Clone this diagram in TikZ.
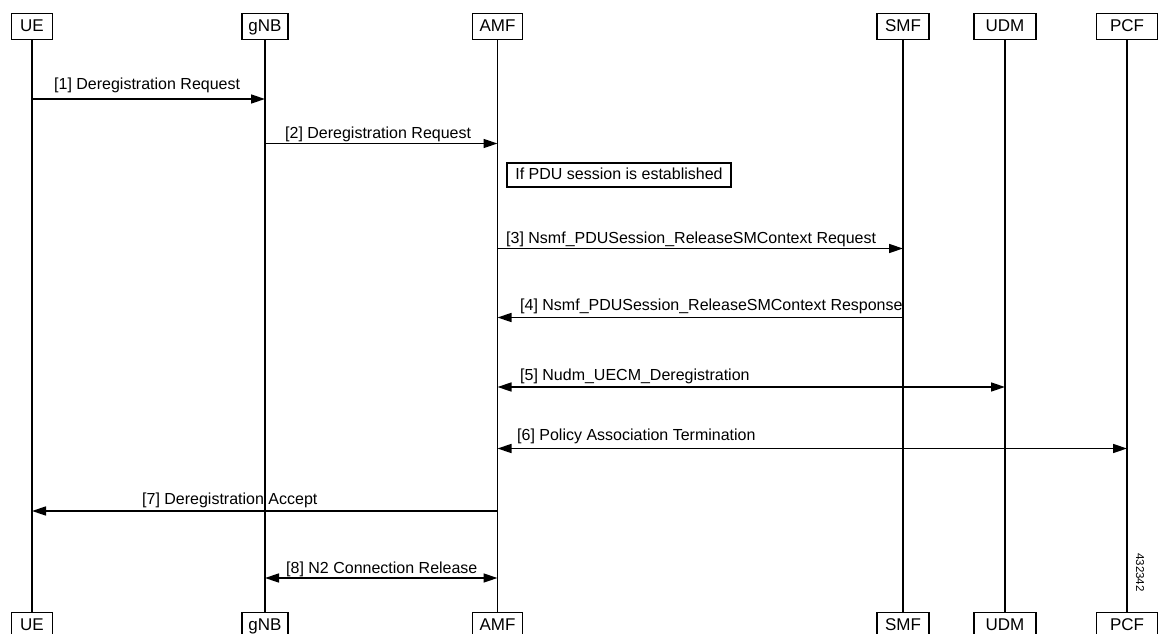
\documentclass[tikz,border=0pt]{standalone}
\usepackage{fontspec}
\setmainfont{Liberation Sans}
\usetikzlibrary{arrows.meta}
\begin{document}
\begin{tikzpicture}[x=1pt,y=-1pt,
  lifebox/.style={draw,line width=1.4pt,inner sep=0pt,minimum height=26pt,text height=12.5pt,text depth=3.5pt,font=\fontsize{17}{20}\selectfont},
  notebox/.style={draw,line width=1.4pt,inner sep=0pt,minimum height=24pt,minimum width=224pt,text height=12pt,text depth=3pt,font=\fontsize{16}{19}\selectfont},
  life/.style={line width=1.5pt},
  msg/.style={line width=1.5pt,-{Triangle[length=14pt,width=9pt]}},
  bimsg/.style={line width=1.5pt,{Triangle[length=14pt,width=9pt]}-{Triangle[length=14pt,width=9pt]}},
  lbl/.style={anchor=base west,inner sep=0pt,font=\fontsize{16}{19}\selectfont}
]
\useasboundingbox (0,0) rectangle (1165,634);
% top boxes
\node[lifebox,minimum width=41pt,anchor=north] (ueT) at (32,13) {UE};
\node[lifebox,minimum width=46pt,anchor=north] (gnbT) at (265,13) {gNB};
\node[lifebox,minimum width=50pt,anchor=north] (amfT) at (497.5,13) {AMF};
\node[lifebox,minimum width=52pt,anchor=north] (smfT) at (903,13) {SMF};
\node[lifebox,minimum width=62pt,anchor=north] (udmT) at (1005,13) {UDM};
\node[lifebox,minimum width=61pt,anchor=north] (pcfT) at (1127,13) {PCF};
% bottom boxes
\node[lifebox,minimum width=41pt,anchor=north] (ueB) at (32,612) {UE};
\node[lifebox,minimum width=46pt,anchor=north] (gnbB) at (265,612) {gNB};
\node[lifebox,minimum width=50pt,anchor=north] (amfB) at (497.5,612) {AMF};
\node[lifebox,minimum width=52pt,anchor=north] (smfB) at (903,612) {SMF};
\node[lifebox,minimum width=62pt,anchor=north] (udmB) at (1005,612) {UDM};
\node[lifebox,minimum width=61pt,anchor=north] (pcfB) at (1127,612) {PCF};
% lifelines
\draw[life] (ueT.south) -- (ueB.north);
\draw[life] (gnbT.south) -- (gnbB.north);
\draw[life] (amfT.south) -- (amfB.north);
\draw[life] (smfT.south) -- (smfB.north);
\draw[life] (udmT.south) -- (udmB.north);
\draw[life] (pcfT.south) -- (pcfB.north);
% note
\node[notebox] (note) at (619,175) {If PDU session is established};
% messages
\draw[msg] (ueT.south |- 0,99) -- (gnbT.south |- 0,99);
\node[lbl] (l1) at (54,89.5) {[1] Deregistration Request};
\draw[msg] (gnbT.south |- 0,143.5) -- (amfT.south |- 0,143.5);
\node[lbl] (l2) at (285,138.5) {[2] Deregistration Request};
\draw[msg] (amfT.south |- 0,248.5) -- (smfT.south |- 0,248.5);
\node[lbl] (l3) at (506,243) {[3] Nsmf\_PDUSession\_ReleaseSMContext Request};
\draw[msg] (smfT.south |- 0,317.5) -- (amfT.south |- 0,317.5);
\node[lbl] (l4) at (520,310) {[4] Nsmf\_PDUSession\_ReleaseSMContext Response};
\draw[bimsg] (amfT.south |- 0,387) -- (udmT.south |- 0,387);
\node[lbl] (l5) at (520,380) {[5] Nudm\_UECM\_Deregistration};
\draw[bimsg] (amfT.south |- 0,448.5) -- (pcfT.south |- 0,448.5);
\node[lbl] (l6) at (517,440) {[6] Policy Association Termination};
\draw[msg] (amfT.south |- 0,511) -- (ueT.south |- 0,511);
\node[lbl] (l7) at (142,504.5) {[7] Deregistration Accept};
\draw[bimsg] (gnbT.south |- 0,578) -- (amfT.south |- 0,578);
\node[lbl] (l8) at (286,573) {[8] N2 Connection Release};
% figure number
\node[rotate=-90,inner sep=0pt,font=\fontsize{11.5}{13}\selectfont] (fig) at (1140,572.5) {432342};
\end{tikzpicture}
\end{document}
